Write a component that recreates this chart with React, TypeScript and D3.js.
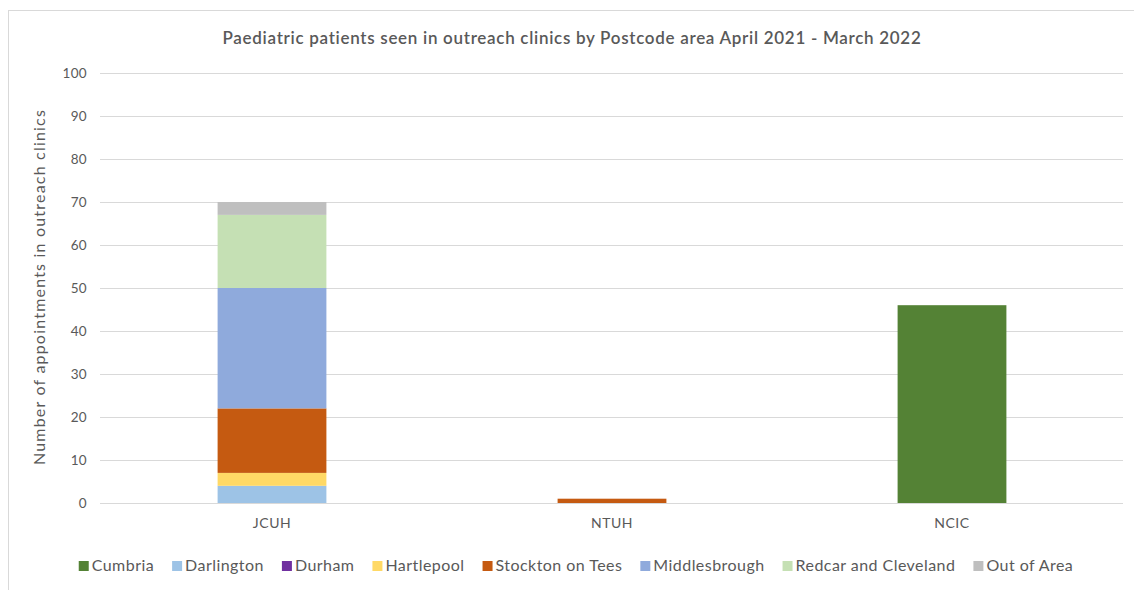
import React, { useEffect, useRef } from "react";
import * as d3 from "d3";

const categories = ["JCUH", "NTUH", "NCIC"];
const seriesNames = [
  "Cumbria",
  "Darlington",
  "Durham",
  "Hartlepool",
  "Stockton on Tees",
  "Middlesbrough",
  "Redcar and Cleveland",
  "Out of Area",
];
const cumbria = [0, 0, 46];
const darlington = [4, 0, 0];
const durham = [0, 0, 0];
const hartlepool = [3, 0, 0];
const stockton = [15, 1, 0];
const middlesbrough = [28, 0, 0];
const redcar = [17, 0, 0];
const outOfArea = [3, 0, 0];
const seriesValues = [cumbria, darlington, durham, hartlepool, stockton, middlesbrough, redcar, outOfArea];
const seriesColors = ["#548235", "#9DC3E6", "#7030A0", "#FFD966", "#C55A11", "#8FAADC", "#C5E0B4", "#BFBFBF"];
const yTicks = [0, 10, 20, 30, 40, 50, 60, 70, 80, 90, 100];
const title = "Paediatric patients seen in outreach clinics by Postcode area April 2021 - March 2022";
const yTitle = "Number of appointments in outreach clinics";

const W = 1134;
const H = 590;
const FONT = "Lato, 'Open Sans', sans-serif";
const TXT = "#595959";

export default function App() {
  const ref = useRef<SVGSVGElement | null>(null);

  useEffect(() => {
    const svg = d3.select(ref.current);
    svg.selectAll("*").remove();

    // chart border
    svg.append("rect")
      .attr("x", 8.5).attr("y", 10.5)
      .attr("width", W + 20).attr("height", H + 20)
      .attr("fill", "#fff").attr("stroke", "#d9d9d9");

    const x = d3.scaleBand<string>().domain(categories).range([102, 1122]).paddingInner(0.68).paddingOuter(0.34);
    const y = d3.scaleLinear().domain([0, 100]).range([503, 73]);

    // gridlines
    svg.append("g").selectAll("line").data(yTicks).join("line")
      .attr("x1", 100).attr("x2", 1123)
      .attr("y1", (d) => Math.round(y(d)) + 0.5).attr("y2", (d) => Math.round(y(d)) + 0.5)
      .attr("stroke", "#d9d9d9").attr("stroke-width", 1);

    // y tick labels
    svg.append("g").selectAll("text").data(yTicks).join("text")
      .attr("x", 87).attr("y", (d) => y(d))
      .attr("dy", "0.35em").attr("text-anchor", "end")
      .attr("font-family", FONT).attr("font-size", 13.5).attr("fill", TXT)
      .attr("letter-spacing", 0.3)
      .text((d) => String(d));

    // stacked bars
    const rows = categories.map((c, i) => {
      const r: any = { cat: c };
      seriesNames.forEach((s, j) => (r[s] = seriesValues[j][i]));
      return r;
    });
    const stack = d3.stack<any>().keys(seriesNames)(rows);
    const gBars = svg.append("g");
    stack.forEach((layer, j) => {
      gBars.append("g").attr("fill", seriesColors[j]).selectAll("rect")
        .data(layer.filter((d) => d[1] - d[0] > 0))
        .join("rect")
        .attr("x", (d) => x(d.data.cat) as number)
        .attr("width", x.bandwidth())
        .attr("y", (d) => y(d[1]))
        .attr("height", (d) => y(d[0]) - y(d[1]));
    });

    // x labels
    svg.append("g").selectAll("text").data(categories).join("text")
      .attr("x", (d) => (x(d) as number) + x.bandwidth() / 2).attr("y", 528)
      .attr("text-anchor", "middle")
      .attr("font-family", FONT).attr("font-size", 14).attr("fill", TXT)
      .attr("letter-spacing", 0.5)
      .text((d) => d);

    // title
    svg.append("text")
      .attr("x", 572).attr("y", 44).attr("text-anchor", "middle")
      .attr("font-family", FONT).attr("font-size", 17).attr("font-weight", 600).attr("fill", TXT)
      .attr("letter-spacing", 0.7)
      .text(title);

    // y axis title
    svg.append("text")
      .attr("transform", "translate(45,287) rotate(-90)")
      .attr("text-anchor", "middle")
      .attr("font-family", FONT).attr("font-size", 16).attr("fill", TXT)
      .attr("letter-spacing", 1.2)
      .text(yTitle);

    // legend
    const lg = svg.append("g");
    const items = lg.selectAll("g").data(seriesNames).join("g");
    items.append("rect").attr("width", 10).attr("height", 10).attr("y", -10)
      .attr("fill", (_d, i) => seriesColors[i]);
    items.append("text").attr("x", 13).attr("y", 0)
      .attr("font-family", FONT).attr("font-size", 16).attr("fill", TXT)
      .attr("letter-spacing", 0.45)
      .text((d) => d);
    let cx = 0;
    const gap = 18;
    items.each(function () {
      const t = d3.select(this).select("text").node() as SVGTextElement;
      const w = 13 + t.getComputedTextLength();
      d3.select(this).attr("transform", `translate(${cx},571)`);
      cx += w + gap;
    });
    const total = cx - gap;
    lg.attr("transform", `translate(${576 - total / 2},0)`);
  }, []);

  return (
    <svg ref={ref} width={W} height={H} style={{ position: "absolute", left: 0, top: 0, background: "#fff" }} />
  );
}
